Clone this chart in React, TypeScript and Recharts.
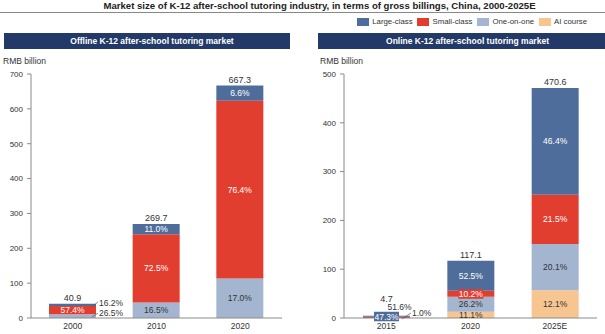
import React from 'react';
import { BarChart, Bar, XAxis, YAxis, LabelList } from 'recharts';

const FONT = '"Liberation Sans", Arial, Helvetica, sans-serif';

const C_LARGE = '#4f6d9b';
const C_SMALL = '#e23e30';
const C_ONE = '#a4b5cf';
const C_AI = '#f7c590';
const C_HEAD = '#233a69';
const C_TEXT = '#333333';
const C_AXIS = '#8a8a8a';

const seriesNames = ['Large-class', 'Small-class', 'One-on-one', 'AI course'];

// Offline market
const offlineYears = ['2000', '2010', '2020'];
const offlineLarge = [6.6, 29.7, 44.0];
const offlineSmall = [23.5, 195.5, 509.8];
const offlineOne = [10.8, 44.5, 113.4];
const offlineTotals = ['40.9', '269.7', '667.3'];
const offlineLargePct = ['16.2%', '11.0%', '6.6%'];
const offlineSmallPct = ['57.4%', '72.5%', '76.4%'];
const offlineOnePct = ['26.5%', '16.5%', '17.0%'];
const offlineTicks = [0, 100, 200, 300, 400, 500, 600, 700];

// Online market
const onlineYears = ['2015', '2020', '2025E'];
const onlineLarge = [2.2, 61.5, 218.4];
const onlineSmall = [2.4, 11.9, 101.2];
const onlineOne = [0.05, 30.7, 94.6];
const onlineAI = [0, 13.0, 56.9];
const onlineTotals = ['4.7', '117.1', '470.6'];
const onlineLargePct = ['47.3%', '52.5%', '46.4%'];
const onlineSmallPct = ['51.6%', '10.2%', '21.5%'];
const onlineOnePct = ['1.0%', '26.2%', '20.1%'];
const onlineAIPct = ['', '11.1%', '12.1%'];
const onlineTicks = [0, 100, 200, 300, 400, 500];

const offlineData = offlineYears.map((year, i) => ({
  year,
  large: offlineLarge[i],
  small: offlineSmall[i],
  one: offlineOne[i],
  largePct: offlineLargePct[i],
  smallPct: offlineSmallPct[i],
  onePct: offlineOnePct[i],
  total: offlineTotals[i],
}));

const onlineData = onlineYears.map((year, i) => ({
  year,
  large: onlineLarge[i],
  small: onlineSmall[i],
  one: onlineOne[i],
  ai: onlineAI[i],
  largePct: onlineLargePct[i],
  smallPct: onlineSmallPct[i],
  onePct: onlineOnePct[i],
  aiPct: onlineAIPct[i],
  total: onlineTotals[i],
}));

const FS = 8.5;

type Mode = 'inside' | 'rightUp' | 'rightDown' | 'box' | 'above' | 'rightLine';

const makeSegLabel = (fill: string, modeOf: (i: number) => Mode, boxColor?: string) => (props: any) => {
  const { x, y, width, height, index, value } = props;
  const text = value;
  if (!text) return null;
  const top = Math.min(y, y + height);
  const h = Math.abs(height);
  const cx = x + width / 2;
  const cy = top + h / 2;
  const right = x + width;
  const m = modeOf(index);
  if (m === 'inside') {
    return (
      <text x={cx} y={cy} dy="0.35em" textAnchor="middle" fill={fill} fontSize={FS} fontFamily={FONT}>
        {text}
      </text>
    );
  }
  if (m === 'rightUp') {
    return (
      <g>
        <line x1={right - 4} y1={top + h + 1} x2={right + 2} y2={cy - 3} stroke="#555" strokeWidth={0.7} />
        <text x={right + 3} y={cy - 2} dy="0.35em" textAnchor="start" fill={C_TEXT} fontSize={FS} fontFamily={FONT}>
          {text}
        </text>
      </g>
    );
  }
  if (m === 'rightDown') {
    return (
      <g>
        <line x1={right - 4} y1={cy + 1} x2={right + 2} y2={cy - 3} stroke="#555" strokeWidth={0.7} />
        <text x={right + 3} y={cy - 3.5} dy="0.35em" textAnchor="start" fill={C_TEXT} fontSize={FS} fontFamily={FONT}>
          {text}
        </text>
      </g>
    );
  }
  if (m === 'box') {
    return (
      <g>
        <rect x={cx - 12.5} y={cy - 4.5} width={25} height={9.5} fill={boxColor} />
        <text x={cx} y={cy + 0.3} dy="0.35em" textAnchor="middle" fill="#fff" fontSize={FS} fontFamily={FONT}>
          {text}
        </text>
      </g>
    );
  }
  if (m === 'above') {
    return (
      <text x={cx + 13} y={cy - 10} dy="0.35em" textAnchor="middle" fill={C_TEXT} fontSize={FS} fontFamily={FONT}>
        {text}
      </text>
    );
  }
  if (m === 'rightLine') {
    return (
      <g>
        <line x1={right - 8} y1={cy + 1} x2={right + 1} y2={cy - 5} stroke="#555" strokeWidth={0.7} />
        <text x={right + 2} y={cy - 5} dy="0.35em" textAnchor="start" fill={C_TEXT} fontSize={FS} fontFamily={FONT}>
          {text}
        </text>
      </g>
    );
  }
  return null;
};

const makeTotalLabel = (offsetOf: (i: number) => number) => (props: any) => {
  const { x, y, width, height, index, value } = props;
  const top = Math.min(y, y + height);
  return (
    <text
      x={x + width / 2}
      y={top - offsetOf(index)}
      dy="0.35em"
      textAnchor="middle"
      fill={C_TEXT}
      fontSize={9}
      fontFamily={FONT}
    >
      {value}
    </text>
  );
};

const tickStyle = { fontSize: 8, fill: C_TEXT, fontFamily: FONT };

function OfflineChart() {
  return (
    <BarChart width={300} height={334} data={offlineData} margin={{ top: 74, right: 18, bottom: 2, left: 0 }}>
      <XAxis
        dataKey="year"
        axisLine={{ stroke: C_AXIS }}
        tickLine={false}
        tickSize={0}
        tickMargin={5}
        height={14}
        tick={{ ...tickStyle, fontSize: 8.5 }}
      />
      <YAxis
        type="number"
        domain={[0, 700]}
        ticks={offlineTicks}
        interval={0}
        width={31}
        axisLine={{ stroke: C_AXIS }}
        tickLine={{ stroke: C_AXIS }}
        tickSize={4}
        tickMargin={4}
        tick={tickStyle}
      />
      <Bar dataKey="one" stackId="a" fill={C_ONE} barSize={47} isAnimationActive={false}>
        <LabelList dataKey="onePct" content={makeSegLabel(C_TEXT, (i) => (i === 0 ? 'rightDown' : 'inside'))} />
      </Bar>
      <Bar dataKey="small" stackId="a" fill={C_SMALL} barSize={47} isAnimationActive={false}>
        <LabelList dataKey="smallPct" content={makeSegLabel('#fff', () => 'inside')} />
      </Bar>
      <Bar dataKey="large" stackId="a" fill={C_LARGE} barSize={47} isAnimationActive={false}>
        <LabelList dataKey="largePct" content={makeSegLabel('#fff', (i) => (i === 0 ? 'rightUp' : 'inside'))} />
        <LabelList dataKey="total" content={makeTotalLabel(() => 6)} />
      </Bar>
    </BarChart>
  );
}

function OnlineChart() {
  return (
    <BarChart width={300} height={334} data={onlineData} margin={{ top: 74, right: 8, bottom: 2, left: 0 }}>
      <XAxis
        dataKey="year"
        axisLine={{ stroke: C_AXIS }}
        tickLine={false}
        tickSize={0}
        tickMargin={5}
        height={14}
        tick={{ ...tickStyle, fontSize: 8.5 }}
      />
      <YAxis
        type="number"
        domain={[0, 500]}
        ticks={onlineTicks}
        interval={0}
        width={39}
        axisLine={{ stroke: C_AXIS }}
        tickLine={{ stroke: C_AXIS }}
        tickSize={4}
        tickMargin={4}
        tick={tickStyle}
      />
      <Bar dataKey="ai" stackId="a" fill={C_AI} barSize={47} isAnimationActive={false}>
        <LabelList dataKey="aiPct" content={makeSegLabel(C_TEXT, () => 'inside')} />
      </Bar>
      <Bar dataKey="one" stackId="a" fill={C_ONE} barSize={47} isAnimationActive={false}>
        <LabelList dataKey="onePct" content={makeSegLabel(C_TEXT, (i) => (i === 0 ? 'rightLine' : 'inside'))} />
      </Bar>
      <Bar dataKey="small" stackId="a" fill={C_SMALL} barSize={47} isAnimationActive={false}>
        <LabelList
          dataKey="smallPct"
          content={makeSegLabel('#fff', (i) => (i === 0 ? 'above' : i === 1 ? 'box' : 'inside'), C_SMALL)}
        />
      </Bar>
      <Bar dataKey="large" stackId="a" fill={C_LARGE} barSize={47} isAnimationActive={false}>
        <LabelList dataKey="largePct" content={makeSegLabel('#fff', (i) => (i === 0 ? 'box' : 'inside'), C_LARGE)} />
        <LabelList dataKey="total" content={makeTotalLabel((i) => (i === 0 ? 17 : 6))} />
      </Bar>
    </BarChart>
  );
}

const legendColors = [C_LARGE, C_SMALL, C_ONE, C_AI];

const headerStyle: React.CSSProperties = {
  position: 'absolute',
  top: 33,
  height: 16,
  background: C_HEAD,
  color: '#fff',
  fontSize: 8.5,
  fontWeight: 'bold',
  textAlign: 'center',
  lineHeight: '16px',
  boxSizing: 'border-box',
};

export default function App() {
  return (
    <div
      style={{
        position: 'absolute',
        left: 0,
        top: 0,
        width: 605,
        height: 334,
        background: '#fff',
        fontFamily: FONT,
        overflow: 'hidden',
      }}
    >
      <div
        style={{
          position: 'absolute',
          left: 17,
          top: 0,
          width: 605,
          textAlign: 'center',
          fontSize: 9.6,
          fontWeight: 'bold',
          color: '#222',
          lineHeight: '12px',
        }}
      >
        Market size of K-12 after-school tutoring industry, in terms of gross billings, China, 2000-2025E
      </div>
      <div style={{ position: 'absolute', left: 0, top: 12, width: 605, height: 1, background: '#888' }} />
      <div
        style={{
          position: 'absolute',
          right: 18,
          top: 16,
          height: 11,
          display: 'flex',
          alignItems: 'center',
          gap: 4.5,
          fontSize: 7.8,
          color: C_TEXT,
          whiteSpace: 'nowrap',
        }}
      >
        {seriesNames.map((name, i) => (
          <div key={name} style={{ display: 'flex', alignItems: 'center' }}>
            <span
              style={{ display: 'inline-block', width: 12, height: 8, background: legendColors[i], marginRight: 3.5 }}
            />
            {name}
          </div>
        ))}
      </div>
      <div style={{ ...headerStyle, left: 4, width: 286, paddingLeft: 10 }}>
        Offline K-12 after-school tutoring market
      </div>
      <div style={{ ...headerStyle, left: 318, width: 287, paddingLeft: 12 }}>
        Online K-12 after-school tutoring market
      </div>
      <div style={{ position: 'absolute', left: 3, top: 56, fontSize: 8.5, color: C_TEXT, lineHeight: '10px' }}>
        RMB billion
      </div>
      <div style={{ position: 'absolute', left: 320, top: 56, fontSize: 8.5, color: C_TEXT, lineHeight: '10px' }}>
        RMB billion
      </div>
      <div style={{ position: 'absolute', left: 0, top: 0 }}>
        <OfflineChart />
      </div>
      <div style={{ position: 'absolute', left: 305, top: 0 }}>
        <OnlineChart />
      </div>
    </div>
  );
}
